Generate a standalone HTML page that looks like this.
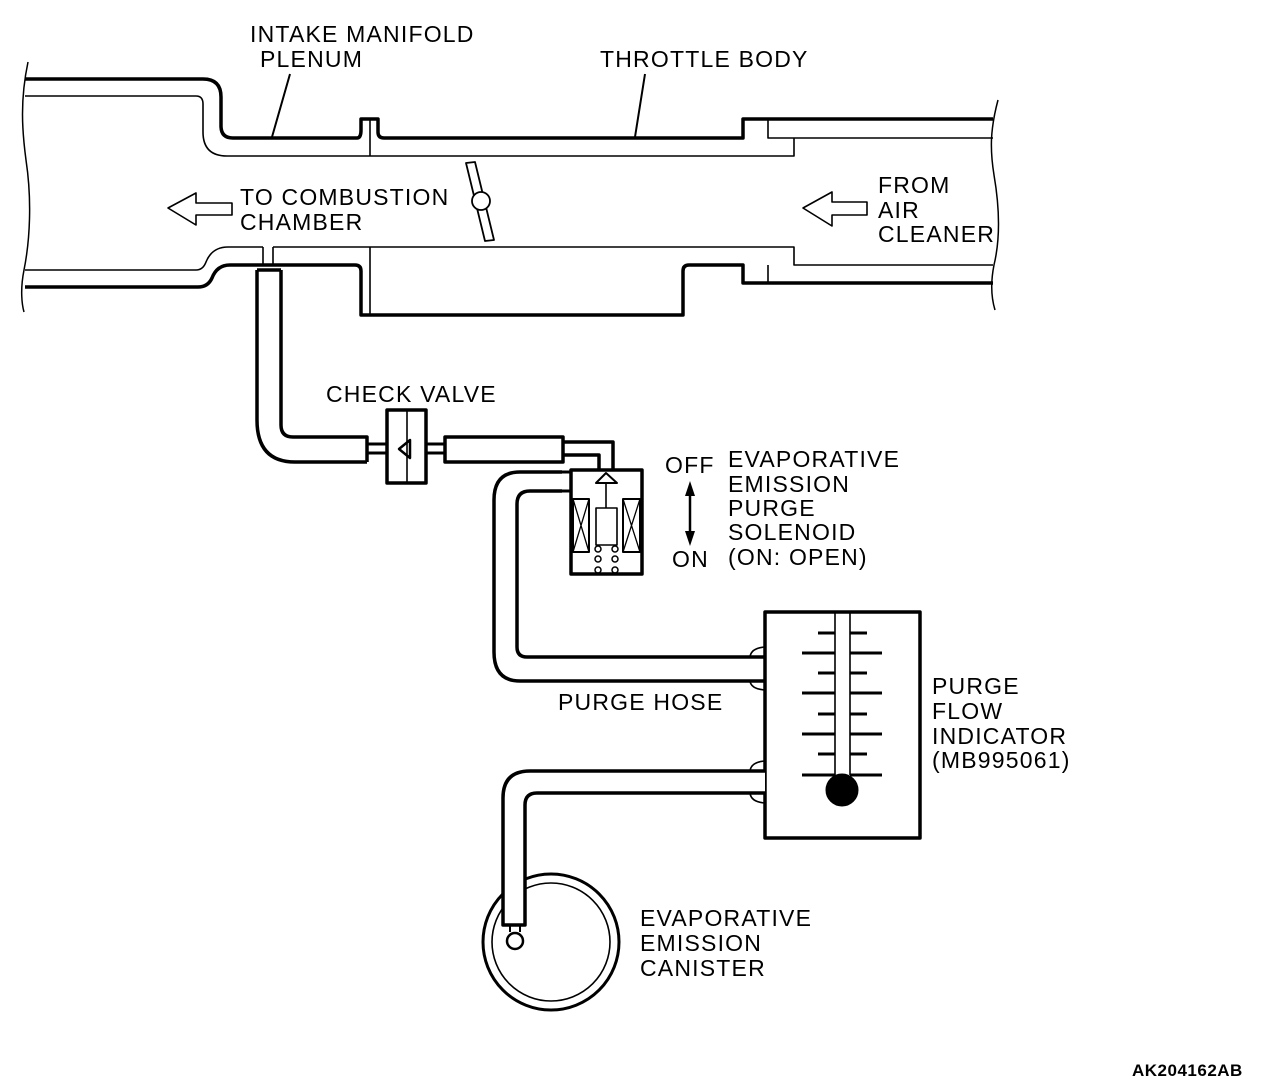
<!DOCTYPE html>
<html><head><meta charset="utf-8"><style>
html,body{margin:0;padding:0;background:#fff}
svg{display:block}
text{font-family:"Liberation Sans",sans-serif;font-size:23px;letter-spacing:1.2px;fill:#000}
</style></head><body>
<svg width="1280" height="1088" viewBox="0 0 1280 1088" xmlns="http://www.w3.org/2000/svg">
<g fill="none" stroke="#000" stroke-linejoin="round">
<path d="M28,62 C20,100 22,130 26,160 C32,200 30,240 24,270 C20,290 22,305 24,312" stroke-width="1.5"/>
<path d="M998,100 C990,130 990,150 994,175 C1000,210 1000,240 994,265 C990,285 992,300 995,310" stroke-width="1.5"/>
<path d="M25,79 H203 Q221,79 221,97 V126 Q221,138 233,138 H357 Q361,138 361,130 V119 H378 V132 Q378,138 384,138 H743 V119 H993" stroke-width="3.5"/>
<path d="M25,96 H196 Q203,96 203,104 V132 Q203,156 227,156 H794 V138" stroke-width="1.6"/>
<path d="M768,119 V138 H993" stroke-width="1.6"/>
<path d="M370,119 V156" stroke-width="1.6"/>
<path d="M25,270 H196 Q203,270 206,262 Q212,247 228,247 H263 M273,247 H794 V265 H993" stroke-width="1.6"/>
<path d="M263,247 V265 M273,247 V265 M768,265 V283" stroke-width="1.6"/>
<path d="M370,247 V315" stroke-width="1.6"/>
<path d="M25,287 H198 Q208,287 212,278 Q217,265 230,265 H355 Q361,265 361,271 V315 H683 V271 Q683,265 689,265 H743 V283 H993" stroke-width="3.5"/>
<path d="M290,74 L272,137 M645,74 L635,137" stroke-width="2"/>
<path d="M168,208 L196,193 V203 H232 V215 H196 V225 Z" stroke-width="1.6"/>
<path d="M803,208 L832,192 V202 H867 V215 H832 V226 Z" stroke-width="1.6"/>
<path d="M466,163 L475,162 L494,240 L485,241 Z" stroke-width="1.8" fill="#fff"/>
<circle cx="481" cy="201" r="9" stroke-width="1.8" fill="#fff"/>
<path d="M257,270 H281 M257,270 V420 Q257,462 295,462 H367 M281,270 V425 Q281,437 293,437 H367 V462" stroke-width="3.5"/>
<path d="M367,444 H387 M367,453 H387 M426,444 H445 M426,453 H445" stroke-width="3"/>
<rect x="387" y="410" width="39" height="73" stroke-width="3.5"/>
<path d="M407,410 V483" stroke-width="1.6"/>
<path d="M410,440 L399,449 L410,458 Z" stroke-width="2.5"/>
<rect x="445" y="437" width="118" height="25" stroke-width="3.5"/>
<path d="M563,442 H613 V470 M563,455 H599 V470" stroke-width="3.5"/>
<rect x="571" y="470" width="71" height="104" stroke-width="3.5"/>
<path d="M562,472 H571 V491 H562" stroke-width="3"/>
<rect x="573" y="499" width="16" height="53" stroke-width="2"/>
<path d="M573,499 L589,552 M589,499 L573,552" stroke-width="1.3"/>
<rect x="623" y="499" width="17" height="53" stroke-width="2"/>
<path d="M623,499 L640,552 M640,499 L623,552" stroke-width="1.3"/>
<rect x="596" y="508" width="21" height="37" stroke-width="1.6"/>
<path d="M606,483 V508" stroke-width="1.6"/>
<path d="M606,473 L596,483 H617 Z" stroke-width="2"/>
<g stroke-width="1.5"><circle cx="598" cy="549" r="3"/><circle cx="615" cy="549" r="3"/><circle cx="598" cy="559" r="3"/><circle cx="615" cy="559" r="3"/><circle cx="598" cy="570" r="3"/><circle cx="615" cy="570" r="3"/></g>
<path d="M562,472 H520 Q494,472 494,500 V652 Q494,681 520,681 H765" stroke-width="3.5"/>
<path d="M562,491 H530 Q517,491 517,504 V647 Q517,657 527,657 H765" stroke-width="3.5"/>
<path d="M765,647 Q751,648 750,657 M765,690 Q751,689 750,681" stroke-width="1.6"/>
<rect x="765" y="612" width="155" height="226" stroke-width="3.5"/>
<path d="M835,612 V775 M850,612 V775" stroke-width="1.6"/>
<g stroke-width="3">
<path d="M818,633 H835 M850,633 H867"/>
<path d="M802,653 H835 M850,653 H882"/>
<path d="M818,673 H835 M850,673 H867"/>
<path d="M802,693 H835 M850,693 H882"/>
<path d="M818,714 H835 M850,714 H867"/>
<path d="M802,734 H835 M850,734 H882"/>
<path d="M818,754 H835 M850,754 H867"/>
<path d="M802,775 H835 M850,775 H882"/>
</g>
<circle cx="842" cy="790" r="16" fill="#000" stroke-width="1"/>
<!-- canister -->
<circle cx="551" cy="942" r="68" stroke-width="3"/>
<circle cx="551" cy="942" r="59" stroke-width="1.6"/>
<!-- lower hose -->
<path d="M765,771 H530 Q503,771 503,798 V925 H525 V805 Q525,793 537,793 H765" stroke-width="3.5" fill="#fff"/>
<path d="M765,761 Q751,762 750,771 M765,803 Q751,802 750,793" stroke-width="1.6"/>
<path d="M510,925 V932 M520,925 V932" stroke-width="2"/>
<circle cx="515" cy="941" r="8" stroke-width="2.5" fill="#fff"/>
<path d="M690,492 V535" stroke-width="2.5"/>
</g>
<path d="M690,481 L685,496 H695 Z M690,546 L685,531 H695 Z" fill="#000"/>
<text x="250" y="42">INTAKE MANIFOLD</text>
<text x="260" y="67">PLENUM</text>
<text x="600" y="67">THROTTLE BODY</text>
<text x="240" y="205">TO COMBUSTION</text>
<text x="240" y="230">CHAMBER</text>
<text x="878" y="193">FROM</text>
<text x="878" y="218">AIR</text>
<text x="878" y="242">CLEANER</text>
<text x="326" y="402">CHECK VALVE</text>
<text x="665" y="473">OFF</text>
<text x="672" y="567">ON</text>
<text x="728" y="467">EVAPORATIVE</text>
<text x="728" y="492">EMISSION</text>
<text x="728" y="516">PURGE</text>
<text x="728" y="540">SOLENOID</text>
<text x="728" y="565">(ON: OPEN)</text>
<text x="558" y="710">PURGE HOSE</text>
<text x="932" y="694">PURGE</text>
<text x="932" y="719">FLOW</text>
<text x="932" y="744">INDICATOR</text>
<text x="932" y="768">(MB995061)</text>
<text x="640" y="926">EVAPORATIVE</text>
<text x="640" y="951">EMISSION</text>
<text x="640" y="976">CANISTER</text>
<text x="1132" y="1076" style="font-size:17px;font-weight:bold;letter-spacing:0.5px">AK204162AB</text>
</svg>
</body></html>
